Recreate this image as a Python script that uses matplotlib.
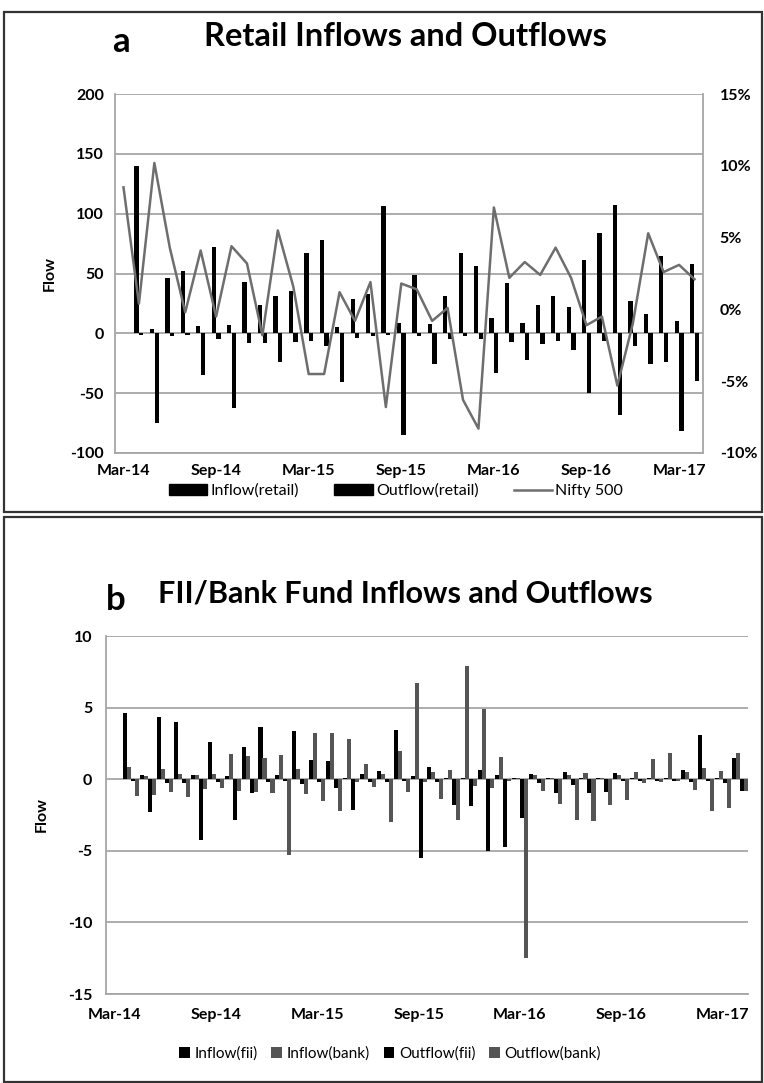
import matplotlib
matplotlib.use('Agg')
import matplotlib.pyplot as plt
import numpy as np
from matplotlib.patches import Rectangle, Patch
from matplotlib.lines import Line2D
from matplotlib.ticker import FuncFormatter

plt.rcParams['font.family'] = ['Lato', 'DejaVu Sans']
plt.rcParams['axes.unicode_minus'] = False

# ---------------- data ----------------
# 38 monthly categories Mar-14 .. Apr-17 (index 0 = Mar-14)
tick_labels = ['Mar-14', 'Sep-14', 'Mar-15', 'Sep-15', 'Mar-16', 'Sep-16', 'Mar-17']
tick_index = [0, 6, 12, 18, 24, 30, 36]

# Panel a: retail flows (Apr-14 .. Apr-17, 37 months)
inflow_retail = [140, 4, 46, 52, 6, 72, 7, 43, 24, 31, 35, 67, 78, 5, 29, 33, 106, 9,
                 49, 8, 31, 67, 56, 13, 42, 9, 24, 31, 22, 61, 84, 107, 27, 16, 65, 10, 58]
outflow_retail = [-1, -75, -2, -1, -35, -5, -62, -8, -8, -24, -7, -6, -11, -41, -4, -2, -1, -85,
                  -2, -26, -5, -2, -5, -33, -7, -22, -9, -6, -14, -50, -6, -68, -11, -26, -24, -82, -40]
# Nifty 500 monthly return (%) Mar-14 .. Apr-17, 38 months
nifty500 = [8.5, 0.4, 10.2, 4.3, -0.2, 4.1, -0.5, 4.4, 3.2, -1.8, 5.5, 1.6, -4.5, -4.5, 1.2, -0.8,
            1.9, -6.8, 1.8, 1.4, -0.8, 0.1, -6.3, -8.3, 7.1, 2.2, 3.3, 2.4, 4.3, 2.2, -1.1, -0.5,
            -5.3, -1.0, 5.3, 2.6, 3.1, 2.1]

# Panel b: FII / bank flows (Apr-14 .. Apr-17, 37 months)
inflow_fii = [4.6, 0.26, 4.37, 4.0, 0.3, 2.58, 0.2, 2.28, 3.63, 0.3, 3.37, 1.35, 1.3, 0.1, 0.37,
              0.58, 3.44, 0.23, 0.88, 0.1, 0.1, 0.65, 0.3, 0.1, 0.37, 0.1, 0.47, 0.1, 0.1, 0.42,
              0.1, 0.1, 0.1, 0.65, 3.1, 0.1, 1.5]
inflow_bank = [0.84, 0.2, 0.72, 0.37, 0.3, 0.37, 1.77, 1.63, 1.47, 1.7, 0.7, 3.2, 3.2, 2.8, 1.07,
               0.37, 2.0, 6.74, 0.53, 0.65, 7.9, 4.88, 1.58, 0.1, 0.3, 0.1, 0.3, 0.42, 0.1, 0.3,
               0.47, 1.4, 1.8, 0.53, 0.77, 0.6, 1.8]
outflow_fii = [-0.1, -2.3, -0.3, -0.3, -4.28, -0.2, -2.84, -0.93, -0.2, -0.1, -0.35, -0.23, -0.63,
               -2.14, -0.23, -0.23, -0.1, -5.5, -0.2, -1.8, -1.86, -4.98, -4.74, -2.72, -0.28,
               -0.93, -0.4, -0.93, -0.86, -0.1, -0.1, -0.1, -0.1, -0.2, -0.1, -0.3, -0.8]
outflow_bank = [-1.16, -1.1, -0.86, -1.26, -0.67, -0.63, -0.8, -0.86, -0.98, -5.28, -1.0, -1.5,
                -2.2, -0.2, -0.56, -3.02, -0.9, -0.23, -1.4, -2.88, -0.5, -0.63, -0.1, -12.5,
                -0.8, -1.72, -2.84, -2.95, -1.8, -1.44, -0.28, -0.23, -0.1, -0.74, -2.2, -2.0, -0.8]

# ---------------- figure ----------------
W, H = 764, 1083
fig = plt.figure(figsize=(W / 100, H / 100), dpi=100)

def fx(px):
    return px / W

def fy(py):
    return 1 - py / H

GRID = '#a6a6a6'
LINE_GREY = '#6e6e6e'
BAR_GREY = '#555555'
TICK_FS = 11.5

# panel borders
fig.patches.append(Rectangle((fx(4), fy(512)), fx(758), (512 - 12) / H, transform=fig.transFigure,
                             fill=False, edgecolor='#333333', linewidth=1.6))
fig.patches.append(Rectangle((fx(4), fy(1082)), fx(758), (1082 - 517) / H, transform=fig.transFigure,
                             fill=False, edgecolor='#333333', linewidth=1.6))

# ---------- panel a ----------
ax = fig.add_axes([fx(115), fy(453), fx(703 - 115), (453 - 94) / H])
n_cat = 38
xb = np.arange(1, n_cat)
bw = 0.28
ax.bar(xb - 0.15, inflow_retail, width=bw, color='black', zorder=3)
ax.bar(xb + 0.15, outflow_retail, width=bw, color='black', zorder=3)
ax.set_xlim(-0.55, n_cat - 0.45)
ax.set_ylim(-100, 200)
ax.set_yticks(np.arange(-100, 201, 50))
ax.yaxis.grid(True, color=GRID, linewidth=1.3, zorder=0)
ax.set_axisbelow(True)
ax.set_xticks(tick_index)
ax.set_xticklabels(tick_labels)
ax.tick_params(axis='both', length=0, labelsize=TICK_FS, pad=8)
for lbl in ax.get_xticklabels() + ax.get_yticklabels():
    lbl.set_fontweight('bold')
for s in ['top', 'right']:
    ax.spines[s].set_visible(False)
for s in ['left', 'bottom']:
    ax.spines[s].set_color(GRID)
    ax.spines[s].set_linewidth(1.3)
ax.set_ylabel('Flow', fontsize=TICK_FS, fontweight='bold', labelpad=10)

ax2 = ax.twinx()
ax2.plot(np.arange(n_cat), nifty500, color=LINE_GREY, linewidth=1.8, zorder=4)
ax2.set_ylim(-10, 15)
ax2.set_yticks(np.arange(-10, 16, 5))
ax2.yaxis.set_major_formatter(FuncFormatter(lambda v, p: f'{v:.0f}%'))
ax2.tick_params(axis='y', length=0, labelsize=TICK_FS, pad=12)
for lbl in ax2.get_yticklabels():
    lbl.set_fontweight('bold')
for s in ['top', 'left', 'bottom']:
    ax2.spines[s].set_visible(False)
ax2.spines['right'].set_color(GRID)
ax2.spines['right'].set_linewidth(1.3)

fig.text(fx(405), fy(37), 'Retail Inflows and Outflows', ha='center', va='center',
         fontsize=23.5, fontweight='bold')
fig.text(fx(121), fy(42), 'a', ha='center', va='center', fontsize=25, fontweight='bold')

handles_a = [Patch(facecolor='black', edgecolor='black'),
             Patch(facecolor='black', edgecolor='black'),
             Line2D([0], [0], color=LINE_GREY, linewidth=1.8)]
fig.legend(handles_a, ['Inflow(retail)', 'Outflow(retail)', 'Nifty 500'], loc='center',
           bbox_to_anchor=(fx(396), fy(491)), ncol=3, frameon=False, fontsize=11.5,
           handlelength=2.4, handleheight=0.7, handletextpad=0.2, columnspacing=2.2)

# ---------- panel b ----------
bx = fig.add_axes([fx(106), fy(994), fx(748 - 106), (994 - 636) / H])
w4 = 0.24
bx.bar(xb - 0.355, inflow_fii, width=w4, color='black', zorder=3)
bx.bar(xb - 0.118, inflow_bank, width=w4, color=BAR_GREY, zorder=3)
bx.bar(xb + 0.118, outflow_fii, width=w4, color='black', zorder=3)
bx.bar(xb + 0.355, outflow_bank, width=w4, color=BAR_GREY, zorder=3)
bx.set_xlim(-0.5, n_cat - 0.5)
bx.set_ylim(-15, 10)
bx.set_yticks(np.arange(-15, 11, 5))
bx.yaxis.grid(True, color=GRID, linewidth=1.3, zorder=0)
bx.set_axisbelow(True)
bx.set_xticks(tick_index)
bx.set_xticklabels(tick_labels)
bx.tick_params(axis='both', length=0, labelsize=TICK_FS, pad=10)
for lbl in bx.get_xticklabels() + bx.get_yticklabels():
    lbl.set_fontweight('bold')
for s in ['top', 'right']:
    bx.spines[s].set_visible(False)
for s in ['left', 'bottom']:
    bx.spines[s].set_color(GRID)
    bx.spines[s].set_linewidth(1.3)
bx.set_ylabel('Flow', fontsize=TICK_FS, fontweight='bold', labelpad=14)

fig.text(fx(405), fy(593), 'FII/Bank Fund Inflows and Outflows', ha='center', va='center',
         fontsize=22, fontweight='bold')
fig.text(fx(116), fy(600), 'b', ha='center', va='center', fontsize=25, fontweight='bold')

handles_b = [Patch(facecolor='black'), Patch(facecolor=BAR_GREY),
             Patch(facecolor='black'), Patch(facecolor=BAR_GREY)]
fig.legend(handles_b, ['Inflow(fii)', 'Inflow(bank)', 'Outflow(fii)', 'Outflow(bank)'],
           loc='center', bbox_to_anchor=(fx(390), fy(1054)), ncol=4, frameon=False,
           fontsize=11, handlelength=0.7, handleheight=0.7, handletextpad=0.3,
           columnspacing=0.9)

fig.savefig('out.png', dpi=100)
